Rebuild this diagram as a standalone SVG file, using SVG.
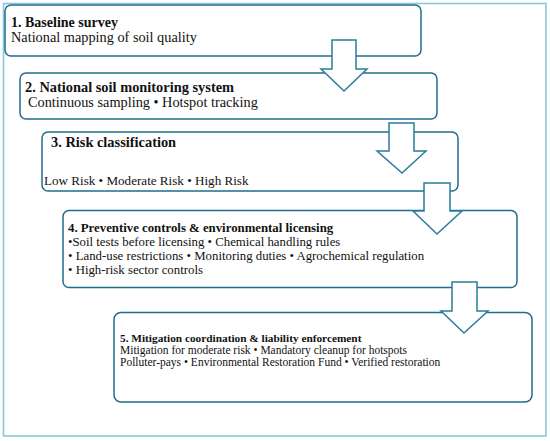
<svg xmlns="http://www.w3.org/2000/svg" width="550" height="441" viewBox="0 0 550 441">
<style>
.frame{fill:#ffffff;stroke:#8cc8dc;stroke-width:1.6}
.box{fill:#ffffff;stroke:#1f6e8c;stroke-width:1.5}
.arrow{fill:#ffffff;stroke:#2a7c9c;stroke-width:1.5;stroke-linejoin:miter}
text{font-family:"Liberation Serif","Times New Roman",serif;fill:#111111}
.t{font-weight:bold}
</style>
<rect class="frame" x="3.5" y="3.5" width="542.5" height="432.5"/>
<g id="node1">
<rect class="box" x="5" y="5" width="416" height="51" rx="6"/>
<text class="t" x="11" y="27" font-size="14">1. Baseline survey</text>
<text x="11" y="42" font-size="14.3">National mapping of soil quality</text>
</g>
<g id="node2">
<rect class="box" x="20" y="73" width="417" height="46" rx="6"/>
<text class="t" x="25" y="92" font-size="14.4">2. National soil monitoring system</text>
<text x="28" y="107" font-size="14.3">Continuous sampling • Hotspot tracking</text>
</g>
<g id="node3">
<rect class="box" x="42" y="132" width="416" height="59" rx="6"/>
<text class="t" x="51" y="147" font-size="14.4">3. Risk classification</text>
<text x="44" y="185" font-size="13.1">Low Risk • Moderate Risk • High Risk</text>
</g>
<g id="node4">
<rect class="box" x="63" y="210.5" width="454" height="77" rx="6"/>
<text class="t" x="68" y="231.5" font-size="12.8">4. Preventive controls &amp; environmental licensing</text>
<text x="68" y="245.7" font-size="12.8">•Soil tests before licensing • Chemical handling rules</text>
<text x="68" y="260" font-size="12.8">• Land-use restrictions • Monitoring duties • Agrochemical regulation</text>
<text x="68" y="274.2" font-size="12.8">• High-risk sector controls</text>
</g>
<g id="node5">
<rect class="box" x="114" y="312.5" width="418" height="89.5" rx="7"/>
<text class="t" x="120" y="342" font-size="11.3">5. Mitigation coordination &amp; liability enforcement</text>
<text x="120" y="354" font-size="11.5">Mitigation for moderate risk • Mandatory cleanup for hotspots</text>
<text x="120" y="366" font-size="11.5">Polluter-pays • Environmental Restoration Fund • Verified restoration</text>
</g>
<g id="connectors">
<polygon class="arrow" points="332,40 356,40 356,69 367,69 344,91 321,69 332,69"/>
<polygon class="arrow" points="389,123 414,123 414,151 426,151 402,173 377,151 389,151"/>
<polygon class="arrow" points="424,183 450,183 450,211 462,211 437,234 413,211 424,211"/>
<polygon class="arrow" points="452,282 477,282 477,311 488,311 464,333 441,311 452,311"/>
</g>
</svg>
